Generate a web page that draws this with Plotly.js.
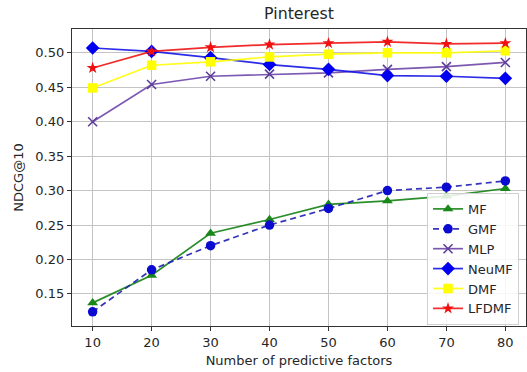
<!DOCTYPE html>
<html>
<head>
<meta charset="utf-8">
<script src="https://cdn.plot.ly/plotly-3.0.1.min.js"></script>
<style>
html,body{margin:0;padding:0;background:#fff;}
#chart{width:527px;height:372px;}
</style>
</head>
<body>
<div id="chart"></div>
<script>
const factors = [10, 20, 30, 40, 50, 60, 70, 80];
const mf     = [0.137, 0.177, 0.238, 0.258, 0.280, 0.285, 0.292, 0.303];
const gmf    = [0.124, 0.185, 0.220, 0.250, 0.274, 0.300, 0.305, 0.314];
const mlp    = [0.400, 0.454, 0.466, 0.469, 0.471, 0.476, 0.480, 0.486];
const neumf  = [0.507, 0.502, 0.493, 0.483, 0.476, 0.467, 0.466, 0.463];
const dmf    = [0.449, 0.482, 0.487, 0.494, 0.498, 0.500, 0.500, 0.503];
const lfdmf  = [0.478, 0.502, 0.508, 0.512, 0.514, 0.516, 0.513, 0.514];
const seriesNames = ['MF', 'GMF', 'MLP', 'NeuMF', 'DMF', 'LFDMF'];
const xTickVals = [10, 20, 30, 40, 50, 60, 70, 80];
const yTickVals = [0.15, 0.20, 0.25, 0.30, 0.35, 0.40, 0.45, 0.50];

const font = 'DejaVu Sans, sans-serif';

function tr(name, y, lineColor, markerColor, symbol, msize, dash, extra) {
  const t = {
    x: factors, y: y, name: name, type: 'scatter', mode: 'lines+markers',
    line: {color: lineColor, width: 1.7, dash: dash || 'solid'},
    marker: {color: markerColor, symbol: symbol, size: msize, line: {width: 0, color: markerColor}}
  };
  if (extra) extra(t);
  return t;
}

const data = [
  tr(seriesNames[0], mf, 'rgba(20,130,20,0.9)', '#1a871a', 'triangle-up', 9.5),
  tr(seriesNames[1], gmf, 'rgba(30,30,180,0.9)', '#0a0ad0', 'circle', 9.5, '6px,4px'),
  tr(seriesNames[2], mlp, 'rgba(110,70,170,0.9)', '#5d3d9c', 'x-thin-open', 9, null, t => { t.marker.line = {width: 1.6, color: '#5d3d9c'}; }),
  tr(seriesNames[3], neumf, 'rgba(20,20,230,0.9)', '#0000f0', 'diamond', 10.5),
  tr(seriesNames[4], dmf, 'rgba(255,255,0,0.9)', '#ffff00', 'square', 9.5),
  tr(seriesNames[5], lfdmf, 'rgba(240,20,20,0.9)', '#f01010', 'star', 9)
];

const layout = {
  width: 527, height: 372,
  margin: {l: 72, r: 1, t: 29, b: 46},
  paper_bgcolor: '#ffffff', plot_bgcolor: '#ffffff',
  font: {family: font, size: 13, color: '#262626'},
  showlegend: true,
  title: {text: 'Pinterest', font: {family: font, size: 15.8, color: '#262626'},
          x: 0.5, xref: 'paper', y: 0.963, yref: 'container', yanchor: 'middle'},
  xaxis: {
    range: [6.5, 83.5], tickvals: xTickVals, ticktext: xTickVals.map(String),
    showgrid: true, gridcolor: '#c4c4c4', gridwidth: 1,
    showline: true, linecolor: '#333', linewidth: 1.2, mirror: true,
    ticks: 'outside', ticklen: 4, tickcolor: '#333', zeroline: false,
    tickfont: {family: font, size: 13, color: '#262626'},
    title: {text: 'Number of predictive factors', font: {family: font, size: 13, color: '#262626'}, standoff: 7}
  },
  yaxis: {
    range: [0.1034, 0.5346], tickvals: yTickVals, ticktext: yTickVals.map(v => v.toFixed(2)),
    showgrid: true, gridcolor: '#c4c4c4', gridwidth: 1,
    showline: true, linecolor: '#333', linewidth: 1.2, mirror: true,
    ticks: 'outside', ticklen: 4, tickcolor: '#333', zeroline: false,
    tickfont: {family: font, size: 13, color: '#262626'},
    title: {text: 'NDCG@10', font: {family: font, size: 13, color: '#262626'}, standoff: 8}
  },
  legend: {
    x: 0.782, y: 0.448, xanchor: 'left', yanchor: 'top',
    bgcolor: 'rgba(255,255,255,0.85)', bordercolor: '#d0d0d0', borderwidth: 1,
    font: {family: font, size: 13, color: '#262626'},
    tracegroupgap: 0
  }
};

Plotly.newPlot('chart', data, layout, {displayModeBar: false, staticPlot: true});
</script>
</body>
</html>
